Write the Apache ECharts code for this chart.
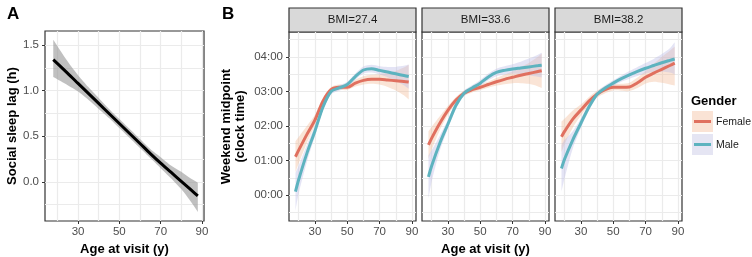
<!DOCTYPE html>
<html>
<head>
<meta charset="utf-8">
<script src="https://cdn.jsdelivr.net/npm/echarts@6/dist/echarts.min.js"></script>
<style>
    html, body { margin: 0; padding: 0; background: #fff; }
    #chart { width: 752px; height: 257px; }
</style>
</head>
<body>
<div id="chart"></div>
<script>
// panel A: social sleep lag vs age
var ageA = [18, 25, 30, 35, 40, 45, 50, 55, 60, 65, 70, 75, 80, 85, 88];
var lagFit = [1.34, 1.19, 1.08, 0.97, 0.86, 0.75, 0.64, 0.53, 0.42, 0.31, 0.205, 0.105, 0.005, -0.095, -0.155];
var lagLow = [1.15, 1.06, 0.99, 0.90, 0.80, 0.70, 0.59, 0.48, 0.37, 0.26, 0.15, 0.04, -0.08, -0.23, -0.33];
var lagHigh = [1.56, 1.32, 1.17, 1.04, 0.92, 0.80, 0.69, 0.58, 0.47, 0.36, 0.27, 0.18, 0.11, 0.03, -0.01];

// panel B: weekend midpoint (hours after midnight) by BMI facet and gender
var ageB = [18, 20, 25, 30, 35, 40, 45, 50, 55, 60, 65, 70, 75, 80, 85, 88];
var bmiLabels = ['BMI=27.4', 'BMI=33.6', 'BMI=38.2'];
var genders = ['Female', 'Male'];

var femaleFit27 = [1.11, 1.30, 1.75, 2.17, 2.72, 3.05, 3.12, 3.12, 3.24, 3.32, 3.35, 3.35, 3.33, 3.31, 3.29, 3.27];
var femaleLow27 = [0.66, 0.92, 1.50, 2.02, 2.62, 2.97, 3.04, 3.04, 3.14, 3.20, 3.22, 3.20, 3.13, 3.03, 2.89, 2.77];
var femaleHigh27 = [1.56, 1.68, 2.00, 2.32, 2.82, 3.13, 3.20, 3.20, 3.34, 3.44, 3.48, 3.50, 3.53, 3.59, 3.69, 3.77];
var maleFit27 = [0.10, 0.45, 1.20, 1.85, 2.55, 3.00, 3.10, 3.20, 3.43, 3.62, 3.66, 3.61, 3.56, 3.51, 3.46, 3.43];
var maleLow27 = [-0.45, 0.05, 0.95, 1.70, 2.45, 2.92, 3.02, 3.12, 3.34, 3.52, 3.55, 3.49, 3.41, 3.31, 3.18, 3.08];
var maleHigh27 = [0.65, 0.85, 1.45, 2.00, 2.65, 3.08, 3.18, 3.28, 3.52, 3.72, 3.77, 3.73, 3.71, 3.71, 3.74, 3.78];

var femaleFit33 = [1.45, 1.65, 2.08, 2.45, 2.75, 2.95, 3.05, 3.12, 3.20, 3.28, 3.35, 3.41, 3.47, 3.52, 3.57, 3.60];
var femaleLow33 = [1.05, 1.32, 1.88, 2.32, 2.66, 2.87, 2.97, 3.04, 3.11, 3.17, 3.21, 3.24, 3.24, 3.22, 3.16, 3.10];
var femaleHigh33 = [1.85, 1.98, 2.28, 2.58, 2.84, 3.03, 3.13, 3.20, 3.29, 3.39, 3.49, 3.58, 3.70, 3.82, 3.98, 4.10];
var maleFit33 = [0.53, 0.85, 1.50, 2.05, 2.60, 2.95, 3.10, 3.24, 3.42, 3.55, 3.61, 3.65, 3.68, 3.71, 3.74, 3.76];
var maleLow33 = [-0.10, 0.40, 1.28, 1.92, 2.50, 2.87, 3.02, 3.15, 3.32, 3.44, 3.49, 3.51, 3.50, 3.47, 3.43, 3.40];
var maleHigh33 = [1.15, 1.30, 1.72, 2.18, 2.70, 3.03, 3.18, 3.33, 3.52, 3.66, 3.73, 3.79, 3.86, 3.95, 4.05, 4.12];

var femaleFit38 = [1.69, 1.85, 2.20, 2.46, 2.72, 2.92, 3.05, 3.12, 3.12, 3.13, 3.25, 3.41, 3.53, 3.64, 3.75, 3.82];
var femaleLow38 = [1.25, 1.48, 1.95, 2.30, 2.60, 2.82, 2.95, 3.03, 3.02, 3.01, 3.10, 3.23, 3.28, 3.25, 3.20, 3.17];
var femaleHigh38 = [2.13, 2.22, 2.45, 2.62, 2.84, 3.02, 3.15, 3.21, 3.22, 3.25, 3.40, 3.59, 3.80, 4.00, 4.18, 4.30];
var maleFit38 = [0.77, 1.05, 1.60, 2.08, 2.55, 2.92, 3.10, 3.24, 3.37, 3.48, 3.58, 3.67, 3.75, 3.83, 3.90, 3.94];
var maleLow38 = [0.10, 0.50, 1.35, 1.94, 2.45, 2.84, 3.02, 3.16, 3.28, 3.37, 3.45, 3.52, 3.56, 3.58, 3.55, 3.50];
var maleHigh38 = [1.45, 1.60, 1.85, 2.22, 2.65, 3.00, 3.18, 3.32, 3.46, 3.59, 3.71, 3.82, 3.94, 4.08, 4.25, 4.42];

// ticks
var xMajor = [30, 50, 70, 90];
var xGridLines = [20, 30, 40, 50, 60, 70, 80, 90];
var yMajorA = [0, 0.5, 1, 1.5];
var yGridA = [-0.25, 0, 0.25, 0.5, 0.75, 1, 1.25, 1.5];
var yMajorB = [0, 1, 2, 3, 4];
var yGridB = [-0.5, 0, 0.5, 1, 1.5, 2, 2.5, 3, 3.5, 4, 4.5];

var facets = [
    { female: [femaleFit27, femaleLow27, femaleHigh27], male: [maleFit27, maleLow27, maleHigh27] },
    { female: [femaleFit33, femaleLow33, femaleHigh33], male: [maleFit33, maleLow33, maleHigh33] },
    { female: [femaleFit38, femaleLow38, femaleHigh38], male: [maleFit38, maleLow38, maleHigh38] }
];

var font = 'Liberation Sans, Arial, Helvetica, sans-serif';
var lineColors = { Female: '#E0705F', Male: '#5DB3BF' };
var bandColors = { Female: 'rgba(240,180,140,0.36)', Male: 'rgba(188,188,230,0.40)' };
var keyColors = { Female: '#FAE3D5', Male: '#E5E5F3' };

var panelTop = 32, panelH = 189, facetW = 127;
var facetLeft = [289, 422, 555];

function pairs(xs, ys) {
    var out = [];
    for (var i = 0; i < xs.length; i++) out.push([xs[i], ys[i]]);
    return out;
}

var grids = [{ left: 45, top: 31, width: 159, height: 190 }];
for (var f = 0; f < 3; f++) grids.push({ left: facetLeft[f], top: panelTop, width: facetW, height: panelH });
grids.forEach(function (g) {
    g.show = true;
    g.backgroundColor = '#fff';
    g.borderColor = '#333';
    g.borderWidth = 1.2;
    g.containLabel = false;
    g.outerBoundsMode = 'none';
});

var nameStyle = { color: '#000', fontSize: 13, fontWeight: 'bold', fontFamily: font };
var xAxes = [], yAxes = [];

function addX(grid, min, max, name) {
    xAxes.push({
        type: 'value', gridIndex: grid, min: min, max: max, position: 'bottom',
        axisLine: { show: false, onZero: false },
        axisTick: { show: true, length: 3, lineStyle: { color: '#333', width: 1 }, customValues: xMajor },
        axisLabel: { color: '#4D4D4D', fontSize: 11.5, fontFamily: font, margin: 5, customValues: xMajor },
        splitLine: { show: false },
        name: name || '', nameLocation: 'middle', nameGap: 20, nameTextStyle: nameStyle
    });
    xAxes.push({
        type: 'value', gridIndex: grid, min: min, max: max, position: 'bottom',
        axisLine: { show: false, onZero: false },
        axisTick: { show: false, customValues: xGridLines },
        axisLabel: { show: false },
        splitLine: { show: true, lineStyle: { color: '#EBEBEB', width: 1.2 } }
    });
}

function addY(grid, min, max, major, lines, fmt, showLabels, name, gap) {
    yAxes.push({
        type: 'value', gridIndex: grid, min: min, max: max, position: 'left',
        axisLine: { show: false, onZero: false },
        axisTick: { show: showLabels, length: 3, lineStyle: { color: '#333', width: 1 }, customValues: major },
        axisLabel: { show: showLabels, color: '#4D4D4D', fontSize: 11.5, fontFamily: font, margin: 6, customValues: major, formatter: fmt },
        splitLine: { show: false },
        name: name || '', nameLocation: 'middle', nameGap: gap || 0, nameRotate: 90,
        nameTextStyle: { color: '#000', fontSize: 13, fontWeight: 'bold', fontFamily: font, lineHeight: 14 }
    });
    yAxes.push({
        type: 'value', gridIndex: grid, min: min, max: max, position: 'left',
        axisLine: { show: false, onZero: false },
        axisTick: { show: false, customValues: lines },
        axisLabel: { show: false },
        splitLine: { show: true, lineStyle: { color: '#EBEBEB', width: 1.2 } }
    });
}

addX(0, 14, 91, 'Age at visit (y)');
addY(0, -0.43, 1.655, yMajorA, yGridA, function (v) { return v.toFixed(1); }, true, 'Social sleep lag (h)', 25);
for (var f = 0; f < 3; f++) {
    addX(f + 1, 14, 92.5, f === 1 ? 'Age at visit (y)' : '');
    addY(f + 1, -0.75, 4.72, yMajorB, yGridB, function (v) { return (v < 10 ? '0' : '') + v + ':00'; },
        f === 0, f === 0 ? 'Weekend midpoint\n(clock time)' : '', 42);
}

var series = [];
// confidence band: one polygon, upper edge forward then lower edge back
// (end points doubled so the smoothing keeps the ends square)
function addBand(axisIdx, xs, low, high, color) {
    var rows = [];
    for (var i = 0; i < xs.length; i++) rows.push([xs[i], low[i], high[i]]);
    series.push({
        type: 'custom', xAxisIndex: axisIdx, yAxisIndex: axisIdx, silent: true,
        data: rows, encode: { x: 0, y: [1, 2] },
        renderItem: function (params, api) {
            if (params.dataIndex !== 0) return;
            var n = rows.length, pts = [];
            pts.push(api.coord([rows[0][0], rows[0][2]]));
            for (var i = 0; i < n; i++) pts.push(api.coord([rows[i][0], rows[i][2]]));
            pts.push(api.coord([rows[n - 1][0], rows[n - 1][2]]));
            pts.push(api.coord([rows[n - 1][0], rows[n - 1][1]]));
            for (var j = n - 1; j >= 0; j--) pts.push(api.coord([rows[j][0], rows[j][1]]));
            pts.push(api.coord([rows[0][0], rows[0][1]]));
            return {
                type: 'polygon',
                shape: { points: pts, smooth: 0.25 },
                style: { fill: color }
            };
        }
    });
}
function addLine(name, axisIdx, xs, ys, color) {
    series.push({
        name: name, type: 'line', xAxisIndex: axisIdx, yAxisIndex: axisIdx,
        data: pairs(xs, ys), smooth: 0.3, symbol: 'none', silent: true,
        lineStyle: { color: color, width: 3 }
    });
}

addBand(0, ageA, lagLow, lagHigh, 'rgba(150,150,150,0.6)');
for (var f = 0; f < 3; f++) {
    genders.forEach(function (g) {
        var d = g === 'Female' ? facets[f].female : facets[f].male;
        addBand((f + 1) * 2, ageB, d[1], d[2], bandColors[g]);
    });
}
addLine('lag', 0, ageA, lagFit, '#000');
for (var f = 0; f < 3; f++) {
    genders.forEach(function (g) {
        var d = g === 'Female' ? facets[f].female : facets[f].male;
        addLine(g, (f + 1) * 2, ageB, d[0], lineColors[g]);
    });
}

// facet strips, panel tags, legend
var graphics = [
    { type: 'text', style: { x: 7, y: 6, text: 'A', font: 'bold 17px ' + font, fill: '#000' } },
    { type: 'text', style: { x: 222, y: 6, text: 'B', font: 'bold 17px ' + font, fill: '#000' } }
];
for (var f = 0; f < 3; f++) {
    graphics.push({
        type: 'rect', shape: { x: facetLeft[f], y: 8, width: facetW, height: 24 },
        style: { fill: '#D9D9D9', stroke: '#333', lineWidth: 1.2 }
    });
    graphics.push({
        type: 'text', style: {
            x: facetLeft[f] + facetW / 2, y: 20, text: bmiLabels[f], align: 'center', verticalAlign: 'middle',
            font: '11.5px ' + font, fill: '#1A1A1A'
        }
    });
}
graphics.push({ type: 'text', style: { x: 691, y: 101, text: 'Gender', verticalAlign: 'middle', font: 'bold 13px ' + font, fill: '#000' } });
genders.forEach(function (g, i) {
    var top = 111 + i * 23;
    graphics.push({ type: 'rect', shape: { x: 692, y: top, width: 21, height: 21 }, style: { fill: keyColors[g] } });
    graphics.push({ type: 'line', shape: { x1: 694, y1: top + 10.5, x2: 711, y2: top + 10.5 }, style: { stroke: lineColors[g], lineWidth: 3 } });
    graphics.push({ type: 'text', style: { x: 716, y: top + 11, text: g, verticalAlign: 'middle', font: '10.5px ' + font, fill: '#1A1A1A' } });
});

var chart = echarts.init(document.getElementById('chart'));
chart.setOption({
    animation: false,
    grid: grids,
    xAxis: xAxes,
    yAxis: yAxes,
    series: series,
    graphic: graphics
});
window.onresize = function () {
    chart.resize();
};
</script>
</body>
</html>
